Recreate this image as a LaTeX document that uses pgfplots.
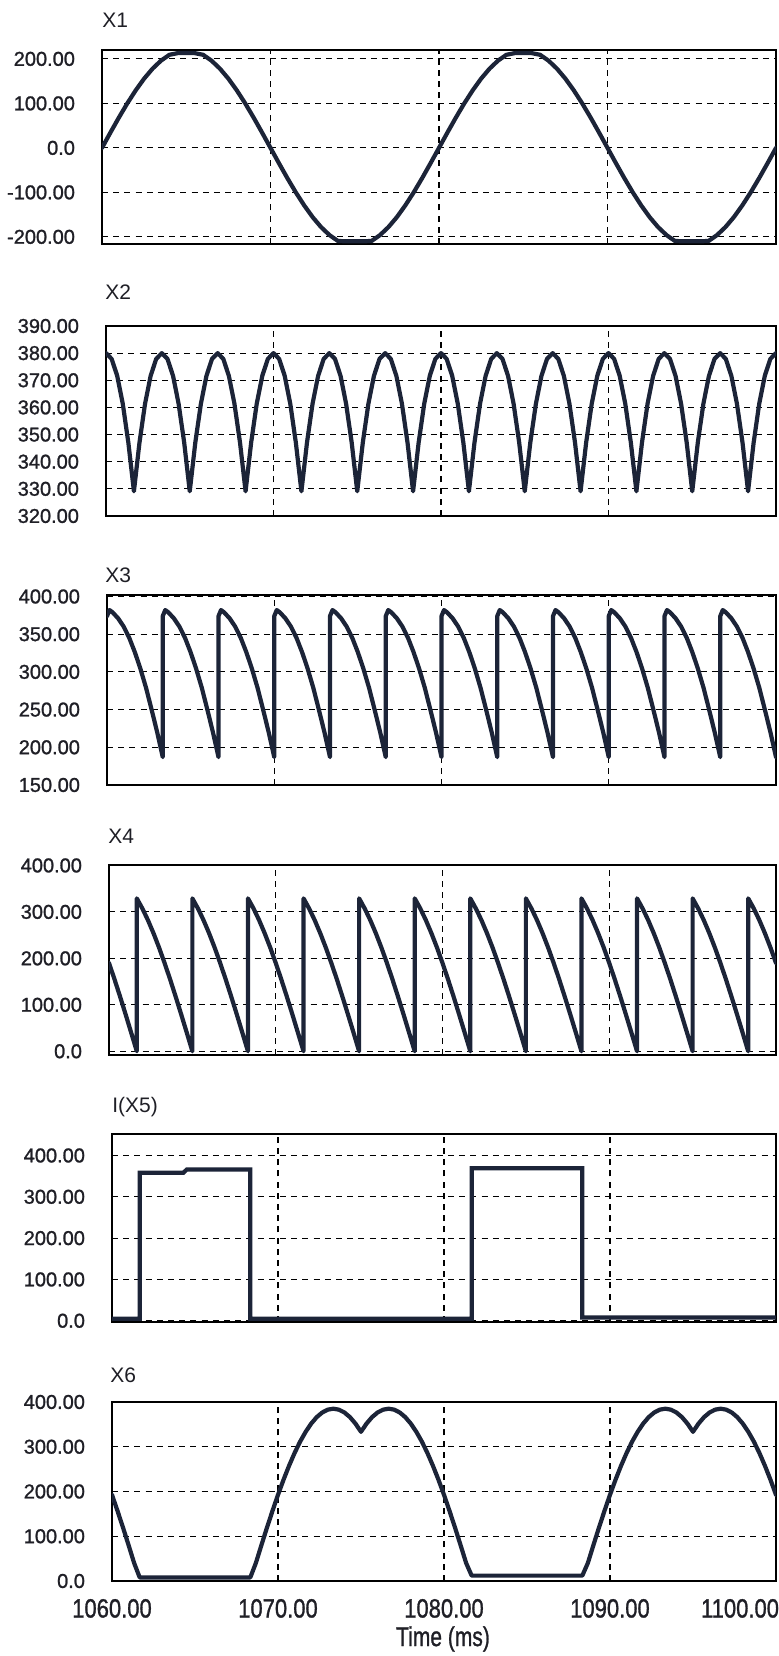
\documentclass[border=0pt]{standalone}
\usepackage{pgfplots}
\pgfplotsset{compat=1.18}
\usepackage{fontspec}
\setmainfont{Liberation Sans}
\newfontfamily\tickfont[FakeBold=1.2]{Liberation Sans}
\definecolor{wavecol}{rgb}{0.11,0.14,0.22}
\definecolor{txt}{rgb}{0.12,0.12,0.15}
\pgfplotsset{
  wl/.style={line width=2.1pt, color=wavecol, line join=round, line cap=round, mark=none},
  wave/.style={
    scale only axis, anchor=north west,
    xmin=1060, xmax=1100,
    xtick={1060,1070,1080,1090,1100},
    xticklabels={},
    grid=major,
    major grid style={dash pattern=on 3pt off 2.6pt, line width=0.55pt, black},
    major tick length=0pt,
    axis line style={line width=0.8pt, black},
    yticklabel style={font=\tickfont\fontsize{10}{12}\selectfont, xshift=-10pt, text=txt},
  }
}
\begin{document}
\begin{tikzpicture}
\useasboundingbox (0,0) rectangle (389.5pt,828pt);
\tikzset{ttl/.style={anchor=west, font=\fontsize{10.5}{12}\selectfont, text=txt, inner sep=0pt}}
\node[ttl] at (51pt,818pt) {X1};
\node[ttl] at (52.5pt,682pt) {X2};
\node[ttl] at (52.5pt,540.5pt) {X3};
\node[ttl] at (54pt,410pt) {X4};
\node[ttl] at (56pt,274.5pt) {I(X5)};
\node[ttl] at (55pt,140.5pt) {X6};
\node[font=\tickfont\fontsize{10.5}{12}\selectfont, text=txt, yscale=1.3] at (221.5pt,8.5pt) {Time (ms)};

% ---------- X1 ----------
\begin{axis}[wave, at={(51pt,803pt)}, width=337pt, height=97pt,
  ymin=-216, ymax=220,
  ytick={-200,-100,0,100,200},
  yticklabels={-200.00,-100.00,0.0,100.00,200.00}]
\addplot[wl] coordinates {
(1060,0)(1060.5,34.4)(1061,68)(1061.5,99.9)(1062,129.3)(1062.5,155.6)(1063,178)(1063.5,196)(1064,209.2)(1064.5,213)(1065,213)(1065.5,213)(1066,209.2)(1066.5,196)(1067,178)(1067.5,155.6)(1068,129.3)(1068.5,99.9)(1069,68)(1069.5,34.4)
(1070,0)(1070.5,-34.4)(1071,-68)(1071.5,-99.9)(1072,-129.3)(1072.5,-155.6)(1073,-178)(1073.5,-196)(1074,-209.2)(1074.5,-210)(1075,-210)(1075.5,-210)(1076,-209.2)(1076.5,-196)(1077,-178)(1077.5,-155.6)(1078,-129.3)(1078.5,-99.9)(1079,-68)(1079.5,-34.4)
(1080,0)(1080.5,34.4)(1081,68)(1081.5,99.9)(1082,129.3)(1082.5,155.6)(1083,178)(1083.5,196)(1084,209.2)(1084.5,213)(1085,213)(1085.5,213)(1086,209.2)(1086.5,196)(1087,178)(1087.5,155.6)(1088,129.3)(1088.5,99.9)(1089,68)(1089.5,34.4)
(1090,0)(1090.5,-34.4)(1091,-68)(1091.5,-99.9)(1092,-129.3)(1092.5,-155.6)(1093,-178)(1093.5,-196)(1094,-209.2)(1094.5,-210)(1095,-210)(1095.5,-210)(1096,-209.2)(1096.5,-196)(1097,-178)(1097.5,-155.6)(1098,-129.3)(1098.5,-99.9)(1099,-68)(1099.5,-34.4)(1100,0)
};
\end{axis}

% ---------- X2 ----------
\begin{axis}[wave, at={(53pt,665pt)}, width=335pt, height=95pt,
  ymin=320, ymax=390,
  ytick={320,330,340,350,360,370,380,390},
  yticklabels={320.00,330.00,340.00,350.00,360.00,370.00,380.00,390.00}]
\addplot[wl] coordinates {
(1060,380)(1060.333,377.9)(1060.667,371.7)(1061,361.4)(1061.333,347.1)(1061.667,329.1)(1062,347.1)(1062.333,361.4)(1062.667,371.7)(1063,377.9)(1063.333,380)(1063.667,377.9)(1064,371.7)(1064.333,361.4)(1064.667,347.1)(1065,329.1)(1065.333,347.1)(1065.667,361.4)(1066,371.7)(1066.333,377.9)(1066.667,380)(1067,377.9)(1067.333,371.7)(1067.667,361.4)(1068,347.1)(1068.333,329.1)(1068.667,347.1)(1069,361.4)(1069.333,371.7)(1069.667,377.9)
(1070,380)(1070.333,377.9)(1070.667,371.7)(1071,361.4)(1071.333,347.1)(1071.667,329.1)(1072,347.1)(1072.333,361.4)(1072.667,371.7)(1073,377.9)(1073.333,380)(1073.667,377.9)(1074,371.7)(1074.333,361.4)(1074.667,347.1)(1075,329.1)(1075.333,347.1)(1075.667,361.4)(1076,371.7)(1076.333,377.9)(1076.667,380)(1077,377.9)(1077.333,371.7)(1077.667,361.4)(1078,347.1)(1078.333,329.1)(1078.667,347.1)(1079,361.4)(1079.333,371.7)(1079.667,377.9)
(1080,380)(1080.333,377.9)(1080.667,371.7)(1081,361.4)(1081.333,347.1)(1081.667,329.1)(1082,347.1)(1082.333,361.4)(1082.667,371.7)(1083,377.9)(1083.333,380)(1083.667,377.9)(1084,371.7)(1084.333,361.4)(1084.667,347.1)(1085,329.1)(1085.333,347.1)(1085.667,361.4)(1086,371.7)(1086.333,377.9)(1086.667,380)(1087,377.9)(1087.333,371.7)(1087.667,361.4)(1088,347.1)(1088.333,329.1)(1088.667,347.1)(1089,361.4)(1089.333,371.7)(1089.667,377.9)
(1090,380)(1090.333,377.9)(1090.667,371.7)(1091,361.4)(1091.333,347.1)(1091.667,329.1)(1092,347.1)(1092.333,361.4)(1092.667,371.7)(1093,377.9)(1093.333,380)(1093.667,377.9)(1094,371.7)(1094.333,361.4)(1094.667,347.1)(1095,329.1)(1095.333,347.1)(1095.667,361.4)(1096,371.7)(1096.333,377.9)(1096.667,380)(1097,377.9)(1097.333,371.7)(1097.667,361.4)(1098,347.1)(1098.333,329.1)(1098.667,347.1)(1099,361.4)(1099.333,371.7)(1099.667,377.9)(1100,380)
};
\end{axis}

% ---------- X3 ----------
\begin{axis}[wave, at={(53.5pt,530.5pt)}, width=334.5pt, height=95pt,
  ymin=150, ymax=402,
  ytick={150,200,250,300,350,400},
  yticklabels={150.00,200.00,250.00,300.00,350.00,400.00}]
\addplot[wl] coordinates {
(1060,374)(1060.15,382)(1060.333,379)(1060.667,371)(1061,360)(1061.333,345)(1061.667,326)(1062,304)(1062.333,279)(1062.667,250)(1063,220)(1063.333,187)
(1063.333,374)(1063.483,382)(1063.667,379)(1064,371)(1064.333,360)(1064.667,345)(1065,326)(1065.333,304)(1065.667,279)(1066,250)(1066.333,220)(1066.667,187)
(1066.667,374)(1066.817,382)(1067,379)(1067.333,371)(1067.667,360)(1068,345)(1068.333,326)(1068.667,304)(1069,279)(1069.333,250)(1069.667,220)(1070,187)
(1070,374)(1070.15,382)(1070.333,379)(1070.667,371)(1071,360)(1071.333,345)(1071.667,326)(1072,304)(1072.333,279)(1072.667,250)(1073,220)(1073.333,187)
(1073.333,374)(1073.483,382)(1073.667,379)(1074,371)(1074.333,360)(1074.667,345)(1075,326)(1075.333,304)(1075.667,279)(1076,250)(1076.333,220)(1076.667,187)
(1076.667,374)(1076.817,382)(1077,379)(1077.333,371)(1077.667,360)(1078,345)(1078.333,326)(1078.667,304)(1079,279)(1079.333,250)(1079.667,220)(1080,187)
(1080,374)(1080.15,382)(1080.333,379)(1080.667,371)(1081,360)(1081.333,345)(1081.667,326)(1082,304)(1082.333,279)(1082.667,250)(1083,220)(1083.333,187)
(1083.333,374)(1083.483,382)(1083.667,379)(1084,371)(1084.333,360)(1084.667,345)(1085,326)(1085.333,304)(1085.667,279)(1086,250)(1086.333,220)(1086.667,187)
(1086.667,374)(1086.817,382)(1087,379)(1087.333,371)(1087.667,360)(1088,345)(1088.333,326)(1088.667,304)(1089,279)(1089.333,250)(1089.667,220)(1090,187)
(1090,374)(1090.15,382)(1090.333,379)(1090.667,371)(1091,360)(1091.333,345)(1091.667,326)(1092,304)(1092.333,279)(1092.667,250)(1093,220)(1093.333,187)
(1093.333,374)(1093.483,382)(1093.667,379)(1094,371)(1094.333,360)(1094.667,345)(1095,326)(1095.333,304)(1095.667,279)(1096,250)(1096.333,220)(1096.667,187)
(1096.667,374)(1096.817,382)(1097,379)(1097.333,371)(1097.667,360)(1098,345)(1098.333,326)(1098.667,304)(1099,279)(1099.333,250)(1099.667,220)(1100,187)
};
\end{axis}

% ---------- X4 ----------
\begin{axis}[wave, at={(54.5pt,395.5pt)}, width=333.5pt, height=95pt,
  ymin=-8, ymax=401,
  ytick={0,100,200,300,400},
  yticklabels={0.0,100.00,200.00,300.00,400.00}]
\addplot[wl] coordinates {
(1060,190)(1060.333,154.6)(1060.667,117.4)(1061,79)(1061.333,39.7)(1061.667,0)(1061.667,329.1)(1062,307.4)(1062.333,282.4)(1062.667,254.3)(1063,223.4)(1063.333,190)(1063.667,154.6)(1064,117.4)(1064.333,79)(1064.667,39.7)(1065,0)(1065,329.1)(1065.333,307.4)(1065.667,282.4)(1066,254.3)(1066.333,223.4)(1066.667,190)(1067,154.6)(1067.333,117.4)(1067.667,79)(1068,39.7)(1068.333,0)(1068.333,329.1)(1068.667,307.4)(1069,282.4)(1069.333,254.3)(1069.667,223.4)
(1070,190)(1070.333,154.6)(1070.667,117.4)(1071,79)(1071.333,39.7)(1071.667,0)(1071.667,329.1)(1072,307.4)(1072.333,282.4)(1072.667,254.3)(1073,223.4)(1073.333,190)(1073.667,154.6)(1074,117.4)(1074.333,79)(1074.667,39.7)(1075,0)(1075,329.1)(1075.333,307.4)(1075.667,282.4)(1076,254.3)(1076.333,223.4)(1076.667,190)(1077,154.6)(1077.333,117.4)(1077.667,79)(1078,39.7)(1078.333,0)(1078.333,329.1)(1078.667,307.4)(1079,282.4)(1079.333,254.3)(1079.667,223.4)
(1080,190)(1080.333,154.6)(1080.667,117.4)(1081,79)(1081.333,39.7)(1081.667,0)(1081.667,329.1)(1082,307.4)(1082.333,282.4)(1082.667,254.3)(1083,223.4)(1083.333,190)(1083.667,154.6)(1084,117.4)(1084.333,79)(1084.667,39.7)(1085,0)(1085,329.1)(1085.333,307.4)(1085.667,282.4)(1086,254.3)(1086.333,223.4)(1086.667,190)(1087,154.6)(1087.333,117.4)(1087.667,79)(1088,39.7)(1088.333,0)(1088.333,329.1)(1088.667,307.4)(1089,282.4)(1089.333,254.3)(1089.667,223.4)
(1090,190)(1090.333,154.6)(1090.667,117.4)(1091,79)(1091.333,39.7)(1091.667,0)(1091.667,329.1)(1092,307.4)(1092.333,282.4)(1092.667,254.3)(1093,223.4)(1093.333,190)(1093.667,154.6)(1094,117.4)(1094.333,79)(1094.667,39.7)(1095,0)(1095,329.1)(1095.333,307.4)(1095.667,282.4)(1096,254.3)(1096.333,223.4)(1096.667,190)(1097,154.6)(1097.333,117.4)(1097.667,79)(1098,39.7)(1098.333,0)(1098.333,329.1)(1098.667,307.4)(1099,282.4)(1099.333,254.3)(1099.667,223.4)(1100,190)
};
\end{axis}

% ---------- I(X5) ----------
\begin{axis}[wave, at={(56pt,261pt)}, width=332pt, height=94pt,
  ymin=-3, ymax=452,
  ytick={0,100,200,300,400},
  yticklabels={0.0,100.00,200.00,300.00,400.00}]
\addplot[wl, line join=miter, line cap=butt] coordinates {
(1060,5)(1061.667,5)(1061.667,358)(1064.3,358)(1064.5,366)(1068.333,366)(1068.333,5)(1081.667,5)(1081.667,369)(1088.333,369)(1088.333,8)(1100,8)
};
\end{axis}

% ---------- X6 ----------
\begin{axis}[wave, at={(56pt,127pt)}, width=332pt, height=89.5pt,
  ymin=0, ymax=400,
  ytick={0,100,200,300,400},
  yticklabels={0.0,100.00,200.00,300.00,400.00},
  xticklabels={1060.00,1070.00,1080.00,1090.00,\makebox[0pt][r]{1100.00\kern-1.5pt}},
  xticklabel style={font=\tickfont\fontsize{11}{13}\selectfont, text=txt, yscale=1.2, yshift=-4pt}]
\addplot[wl] coordinates {
(1060,192.5)(1060.333,156.6)(1060.667,119)(1061,80)(1061.333,40.2)(1061.667,8)(1068.333,8)
(1068.667,40.2)(1069,80)(1069.333,119)(1069.667,156.6)(1070,192.5)(1070.333,226.3)(1070.667,257.6)(1071,286.1)(1071.333,311.5)(1071.667,333.4)(1072,351.7)(1072.333,366.2)(1072.667,376.6)(1073,382.9)(1073.333,385)(1073.667,382.9)(1074,376.6)(1074.333,366.2)(1074.667,351.7)(1075,333.4)(1075.333,351.7)(1075.667,366.2)(1076,376.6)(1076.333,382.9)(1076.667,385)(1077,382.9)(1077.333,376.6)(1077.667,366.2)(1078,351.7)(1078.333,333.4)(1078.667,311.5)(1079,286.1)(1079.333,257.6)(1079.667,226.3)(1080,192.5)(1080.333,156.6)(1080.667,119)(1081,80)(1081.333,40.2)(1081.667,12)(1088.333,12)
(1088.667,40.2)(1089,80)(1089.333,119)(1089.667,156.6)(1090,192.5)(1090.333,226.3)(1090.667,257.6)(1091,286.1)(1091.333,311.5)(1091.667,333.4)(1092,351.7)(1092.333,366.2)(1092.667,376.6)(1093,382.9)(1093.333,385)(1093.667,382.9)(1094,376.6)(1094.333,366.2)(1094.667,351.7)(1095,333.4)(1095.333,351.7)(1095.667,366.2)(1096,376.6)(1096.333,382.9)(1096.667,385)(1097,382.9)(1097.333,376.6)(1097.667,366.2)(1098,351.7)(1098.333,333.4)(1098.667,311.5)(1099,286.1)(1099.333,257.6)(1099.667,226.3)(1100,192.5)
};
\end{axis}
\end{tikzpicture}
\end{document}
